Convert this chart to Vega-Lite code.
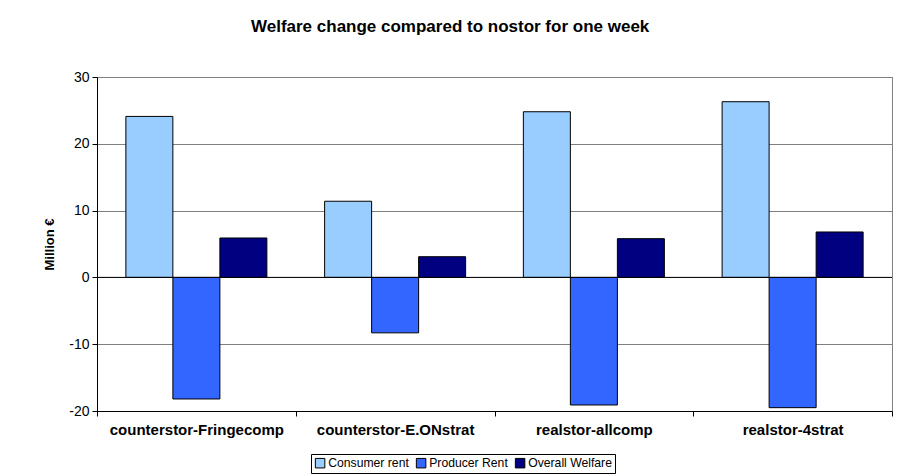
{
  "$schema": "https://vega.github.io/schema/vega-lite/v6.json",
  "autosize": "none",
  "width": 795,
  "height": 334,
  "padding": {"left": 97, "top": 77, "right": 17, "bottom": 64},
  "background": "white",
  "title": {"text": "Welfare change compared to nostor for one week", "font": "Liberation Sans", "fontSize": 17, "fontWeight": "bold", "color": "black", "anchor": "middle", "frame": "bounds", "offset": 34, "dx": -18},
  "config": {
    "view": {"stroke": "#808080", "strokeWidth": 1},
    "font": "Liberation Sans"
  },
  "data": {"values": [
    {"scenario": "counterstor-Fringecomp", "measure": "Consumer rent", "value": 24.1},
    {"scenario": "counterstor-Fringecomp", "measure": "Producer Rent", "value": -18.2},
    {"scenario": "counterstor-Fringecomp", "measure": "Overall Welfare", "value": 5.9},
    {"scenario": "counterstor-E.ONstrat", "measure": "Consumer rent", "value": 11.4},
    {"scenario": "counterstor-E.ONstrat", "measure": "Producer Rent", "value": -8.3},
    {"scenario": "counterstor-E.ONstrat", "measure": "Overall Welfare", "value": 3.1},
    {"scenario": "realstor-allcomp", "measure": "Consumer rent", "value": 24.8},
    {"scenario": "realstor-allcomp", "measure": "Producer Rent", "value": -19.1},
    {"scenario": "realstor-allcomp", "measure": "Overall Welfare", "value": 5.8},
    {"scenario": "realstor-4strat", "measure": "Consumer rent", "value": 26.3},
    {"scenario": "realstor-4strat", "measure": "Producer Rent", "value": -19.5},
    {"scenario": "realstor-4strat", "measure": "Overall Welfare", "value": 6.8}
  ]},
  "layer": [
    {
      "mark": {"type": "bar", "stroke": "black", "strokeWidth": 1},
      "encoding": {
        "x": {"field": "scenario", "type": "nominal", "sort": null,
          "scale": {"paddingInner": 0, "paddingOuter": 0},
          "axis": {"title": null, "labelAngle": 0, "labelFont": "Liberation Sans", "labelFontSize": 15, "labelFontWeight": "bold", "labelColor": "black", "labelPadding": 6, "tickBand": "extent", "tickColor": "black", "tickSize": 5, "domainColor": "black", "domainWidth": 1, "grid": false}},
        "xOffset": {"field": "measure", "type": "nominal", "sort": ["Consumer rent", "Producer Rent", "Overall Welfare"],
          "scale": {"paddingInner": 0, "paddingOuter": 0.614}},
        "y": {"field": "value", "type": "quantitative",
          "scale": {"domain": [-20, 30], "nice": false, "zero": false},
          "axis": {"title": "Million €", "titleFont": "Liberation Sans", "titleFontSize": 13, "titleFontWeight": "bold", "titleColor": "black", "titlePadding": 12, "values": [-20, -10, 0, 10, 20, 30], "labelExpr": "'' + datum.value", "labelFont": "Liberation Sans", "labelFontSize": 14, "labelColor": "black", "labelPadding": 3, "tickColor": "black", "tickSize": 5, "domainColor": "black", "grid": true, "gridColor": "#808080", "gridWidth": 1}},
        "color": {"field": "measure", "type": "nominal", "sort": ["Consumer rent", "Producer Rent", "Overall Welfare"],
          "scale": {"domain": ["Consumer rent", "Producer Rent", "Overall Welfare"], "range": ["#99CCFF", "#3366FF", "#000080"]},
          "legend": {"title": null, "orient": "none", "legendX": 214, "legendY": 377, "direction": "horizontal", "symbolType": "square", "symbolSize": 90, "symbolStrokeColor": "black", "symbolStrokeWidth": 1, "symbolOpacity": 1, "labelFont": "Liberation Sans", "labelFontSize": 12.2, "labelColor": "black", "labelOffset": 2, "columnPadding": 5, "strokeColor": "black", "padding": 3}}
      }
    },
    {
      "data": {"values": [{"y": 0}]},
      "mark": {"type": "rule", "color": "black", "strokeWidth": 1},
      "encoding": {"y": {"field": "y", "type": "quantitative"}}
    }
  ]
}
